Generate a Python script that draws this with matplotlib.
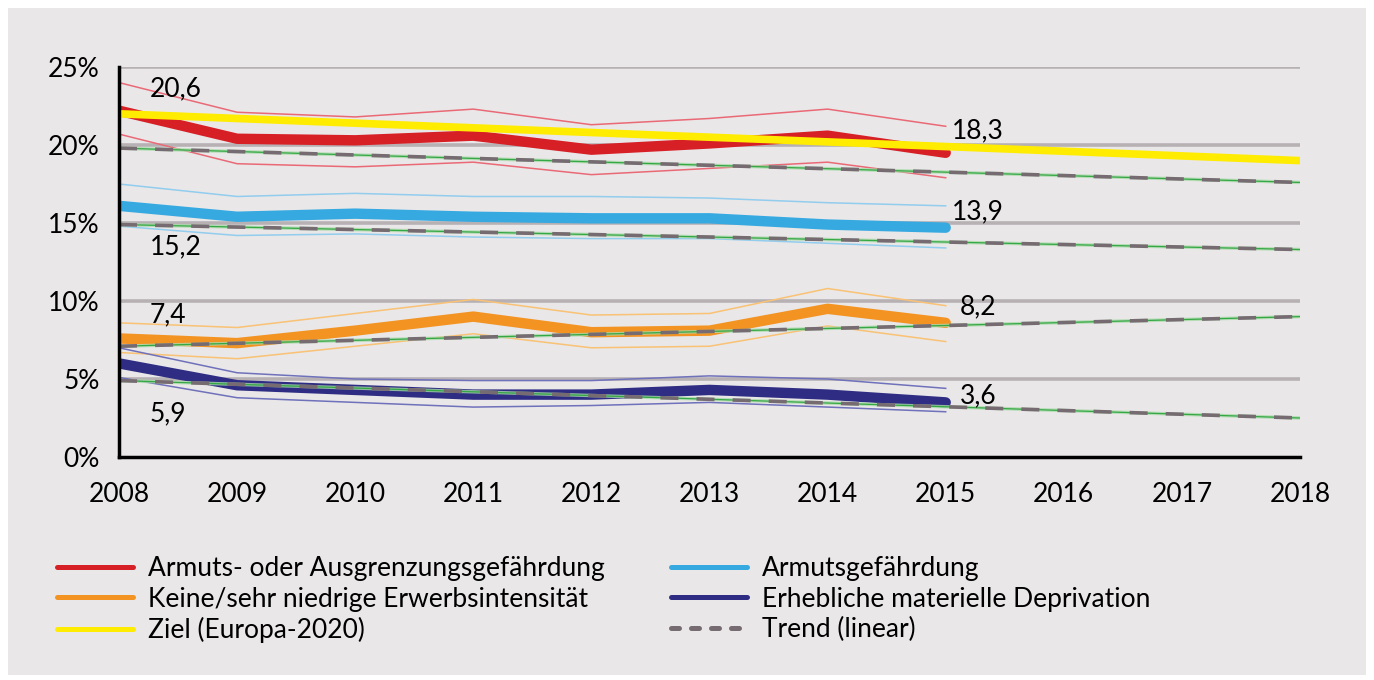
import matplotlib
matplotlib.use('Agg')
import matplotlib.pyplot as plt
from matplotlib.lines import Line2D
from matplotlib.patches import Rectangle

plt.rcParams['font.family'] = ['Lato', 'DejaVu Sans']

jahre = [2008, 2009, 2010, 2011, 2012, 2013, 2014, 2015]
jahre_ziel = list(range(2008, 2019))

# Armuts- oder Ausgrenzungsgefaehrdung (Wert, obere/untere Grenze)
aroppe = [22.2, 20.4, 20.3, 20.6, 19.7, 20.1, 20.6, 19.5]
aroppe_hi = [24.0, 22.1, 21.8, 22.3, 21.3, 21.7, 22.3, 21.2]
aroppe_lo = [20.7, 18.8, 18.6, 18.9, 18.1, 18.5, 18.9, 17.9]

# Armutsgefaehrdung
arop = [16.1, 15.4, 15.6, 15.4, 15.3, 15.3, 14.9, 14.7]
arop_hi = [17.5, 16.7, 16.9, 16.7, 16.7, 16.6, 16.3, 16.1]
arop_lo = [14.8, 14.2, 14.3, 14.1, 14.0, 14.0, 13.7, 13.4]

# Keine/sehr niedrige Erwerbsintensitaet
lwi = [7.6, 7.3, 8.1, 9.0, 8.0, 8.1, 9.5, 8.6]
lwi_hi = [8.6, 8.3, 9.2, 10.1, 9.1, 9.2, 10.8, 9.7]
lwi_lo = [6.7, 6.3, 7.1, 7.9, 7.0, 7.1, 8.4, 7.4]

# Erhebliche materielle Deprivation
smd = [6.0, 4.6, 4.3, 4.0, 4.0, 4.3, 4.0, 3.5]
smd_hi = [7.0, 5.4, 5.0, 4.9, 4.9, 5.2, 5.0, 4.4]
smd_lo = [5.1, 3.8, 3.5, 3.2, 3.3, 3.5, 3.2, 2.9]

# Ziel (Europa-2020)
ziel = [22.0, 21.7, 21.4, 21.1, 20.8, 20.5, 20.2, 19.9, 19.6, 19.3, 19.0]

# Trends (linear), Start 2008 und Ende 2018
trend_jahre = [2008, 2018]
trend_aroppe = [19.8, 17.6]
trend_arop = [14.9, 13.3]
trend_lwi = [7.1, 9.0]
trend_smd = [4.9, 2.5]

beschriftungen = [
    (2008.26, 23.6, '20,6'), (2008.26, 13.5, '15,2'),
    (2008.26, 9.1, '7,4'), (2008.26, 2.8, '5,9'),
    (2015.05, 20.9, '18,3'), (2015.05, 15.7, '13,9'),
    (2015.12, 9.6, '8,2'), (2015.12, 3.9, '3,6'),
]

rot, orange, gelb, blau, navy, grau = '#d71f26', '#f39322', '#ffec00', '#36a9e1', '#2e2d83', '#776b72'
schrift = 19

fig = plt.figure(figsize=(13.74, 6.8), dpi=100)
fig.patch.set_facecolor('white')
fig.patches.append(Rectangle((8 / 1374, 5 / 680), 1358 / 1374, 667 / 680,
                             transform=fig.transFigure, facecolor='#e9e7e8',
                             edgecolor='none', zorder=-10))

ax = fig.add_axes([119 / 1374, 1 - 457 / 680, 1181 / 1374, 390 / 680])
ax.set_facecolor('none')

for y in [5, 10, 15, 20, 25]:
    ax.axhline(y, color='#b7b1b4', lw=2.6, zorder=1)

dunn = [(aroppe_hi, '#e96a76'), (aroppe_lo, '#e96a76'),
        (arop_hi, '#92cdee'), (arop_lo, '#92cdee'),
        (lwi_hi, '#f9c274'), (lwi_lo, '#f9c274'),
        (smd_hi, '#6f71bb'), (smd_lo, '#6f71bb')]
for werte, farbe in dunn:
    ax.plot(jahre, werte, color=farbe, lw=1.1, zorder=2)

for werte, farbe in [(aroppe, rot), (arop, blau), (lwi, orange), (smd, navy)]:
    ax.plot(jahre, werte, color=farbe, lw=7.5, solid_capstyle='round',
            solid_joinstyle='round', zorder=3)

ax.plot(jahre_ziel, ziel, color=gelb, lw=5.5, solid_capstyle='round', zorder=4)

for werte in [trend_aroppe, trend_arop, trend_lwi, trend_smd]:
    ax.plot(trend_jahre, werte, color='#a8d9a8', lw=2.5, alpha=0.8, zorder=5)
    ax.plot(trend_jahre, werte, color='#35a845', lw=0.9, zorder=6)
    ax.plot(trend_jahre, werte, color=grau, lw=2.6, dashes=(5, 5), zorder=7)

for x, y, t in beschriftungen:
    ax.text(x, y, t, fontsize=schrift, va='center', ha='left', zorder=8)

ax.set_xlim(2008, 2018)
ax.set_ylim(0, 25)
ax.set_xticks(jahre_ziel)
ax.set_yticks([0, 5, 10, 15, 20, 25])
ax.set_yticklabels(['0%', '5%', '10%', '15%', '20%', '25%'])
ax.tick_params(length=0, labelsize=schrift, pad=14)
ax.tick_params(axis='x', pad=18)
for s in ['top', 'right']:
    ax.spines[s].set_visible(False)
for s in ['left', 'bottom']:
    ax.spines[s].set_linewidth(2.5)
    ax.spines[s].set_zorder(9)

griffe = [
    Line2D([], [], color=rot, lw=3.6, solid_capstyle='round'),
    Line2D([], [], color=orange, lw=3.6, solid_capstyle='round'),
    Line2D([], [], color=gelb, lw=3.6, solid_capstyle='round'),
    Line2D([], [], color=blau, lw=3.6, solid_capstyle='round'),
    Line2D([], [], color=navy, lw=3.6, solid_capstyle='round'),
    Line2D([], [], color=grau, lw=3.6, linestyle=(0, (1.6, 2.4)), dash_capstyle='round'),
]
namen = ['Armuts- oder Ausgrenzungsgefährdung', 'Keine/sehr niedrige Erwerbsintensität',
         'Ziel (Europa-2020)', 'Armutsgefährdung', 'Erhebliche materielle Deprivation',
         'Trend (linear)']
fig.legend(griffe, namen, ncol=2, loc='upper left', bbox_to_anchor=(33 / 1374, 1 - 532 / 680),
           frameon=False, fontsize=schrift, handlelength=2.9, handletextpad=0.55,
           columnspacing=2.5, labelspacing=0.22)

fig.savefig('out.png', dpi=100)
